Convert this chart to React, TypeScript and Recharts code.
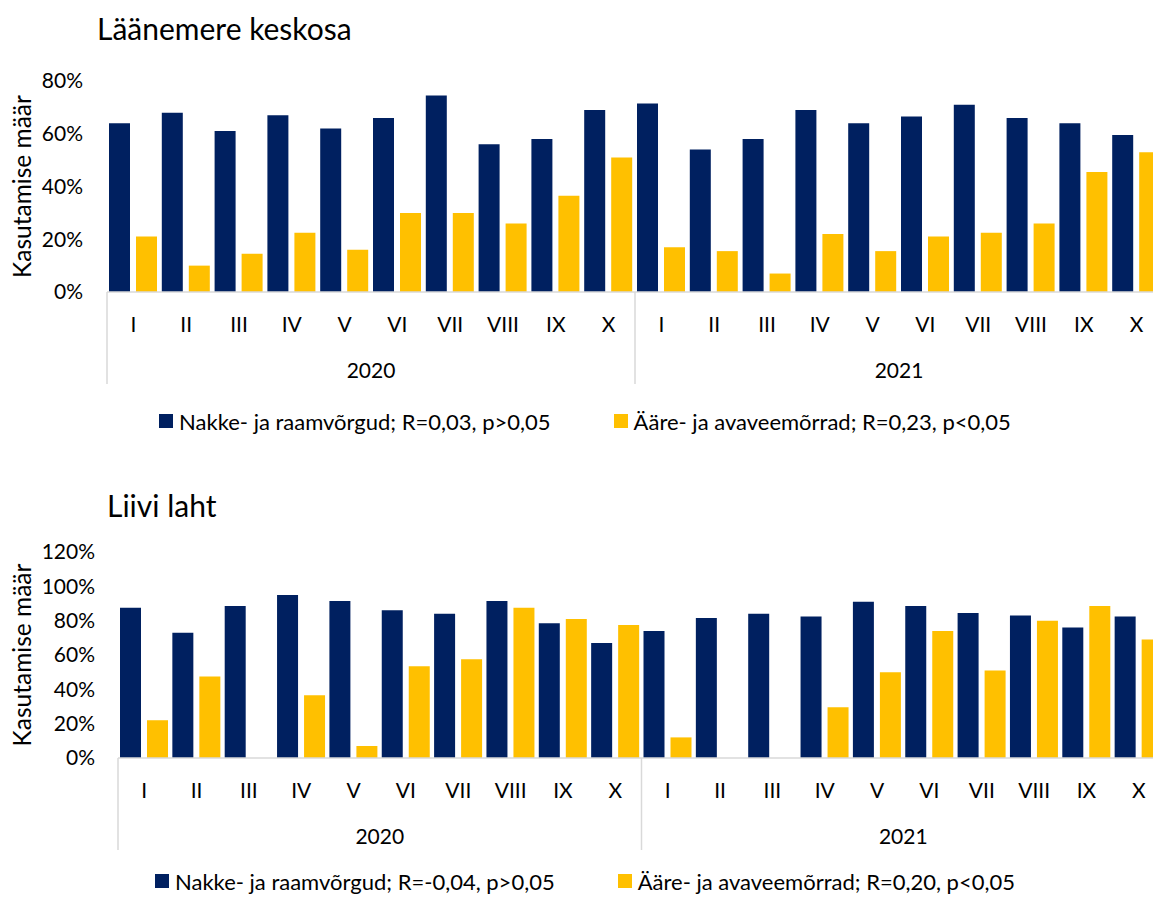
import { BarChart, Bar, XAxis, YAxis, Legend } from "recharts";

const months = ["I", "II", "III", "IV", "V", "VI", "VII", "VIII", "IX", "X"];
const years = ["2020", "2021"];

// Läänemere keskosa, % per month (2020 I..X, then 2021 I..X)
const keskNakke = [64, 68, 61, 67, 62, 66, 74.5, 56, 58, 69, 71.5, 54, 58, 69, 64, 66.5, 71, 66, 64, 59.5];
const keskAare = [21, 10, 14.5, 22.5, 16, 30, 30, 26, 36.5, 51, 17, 15.5, 7, 22, 15.5, 21, 22.5, 26, 45.5, 53];

// Liivi laht
const liiviNakke = [87.5, 73, 88.5, 95, 91.5, 86, 84, 91.5, 78.5, 67, 74, 81.5, 84, 82.5, 91, 88.5, 84.5, 83, 76, 82.5];
const liiviAare = [22, 47.5, null, 36.5, 7, 53.5, 57.5, 87.5, 81, 77.5, 12, null, null, 29.5, 50, 74, 51, 80, 88.5, 69];

const keskTicks = [0, 20, 40, 60, 80];
const liiviTicks = [0, 20, 40, 60, 80, 100, 120];

const keskNames = ["Nakke- ja raamvõrgud; R=0,03, p>0,05", "Ääre- ja avaveemõrrad; R=0,23, p<0,05"];
const liiviNames = ["Nakke- ja raamvõrgud; R=-0,04, p>0,05", "Ääre- ja avaveemõrrad; R=0,20, p<0,05"];

const W = 1170;
const FONT = "Lato, 'Open Sans', sans-serif";
const BLUE = "#002060";
const YELLOW = "#FFC000";
const LINE = "#d9d9d9";

function buildRows(nakke: (number | null)[], aare: (number | null)[]) {
  return years.flatMap((year, yi) =>
    months.map((month, mi) => ({
      year,
      month,
      nakke: nakke[yi * months.length + mi],
      aare: aare[yi * months.length + mi],
    }))
  );
}

function CatTick(props: any) {
  const { x, y, payload, index, bw, rows } = props;
  const n = months.length;
  return (
    <g>
      <text x={x} y={y + 31} textAnchor="middle" dominantBaseline="central" fontSize={21} fontFamily={FONT} fill="#000">
        {payload.value}
      </text>
      {index % n === 0 && (
        <line x1={x - bw / 2} x2={x - bw / 2} y1={y} y2={y + 92} stroke={LINE} strokeWidth={1.5} />
      )}
      {index === rows.length - 1 && (
        <line x1={x + bw / 2} x2={x + bw / 2} y1={y} y2={y + 92} stroke={LINE} strokeWidth={1.5} />
      )}
      {index % n === n / 2 - 1 && (
        <text x={x + bw / 2} y={y + 77} textAnchor="middle" dominantBaseline="central" fontSize={21} fontFamily={FONT} fill="#000">
          {rows[index].year}
        </text>
      )}
    </g>
  );
}

function YLabel(props: any) {
  const { x, y, height } = props.viewBox;
  const cx = x + 21;
  const cy = y + height / 2;
  return (
    <text x={cx} y={cy} transform={`rotate(-90, ${cx}, ${cy})`} textAnchor="middle" dominantBaseline="central" fontSize={24.5} fontFamily={FONT} fill="#000">
      Kasutamise määr
    </text>
  );
}

function LegendBox(props: any) {
  const { payload } = props;
  return (
    <div style={{ display: "flex", justifyContent: "center", alignItems: "center", gap: 63, height: 30, fontSize: 22, fontFamily: FONT, color: "#000" }}>
      {(payload || []).map((e: any) => (
        <span key={e.value} style={{ display: "flex", alignItems: "center" }}>
          <span style={{ width: 14, height: 14, background: e.color, marginRight: 6, display: "inline-block" }} />
          {e.value}
        </span>
      ))}
    </div>
  );
}

type PanelProps = {
  title: string;
  titleX: number;
  titleY: number;
  top: number;
  height: number;
  marginTop: number;
  marginRight: number;
  axisWidth: number;
  tickGap: number;
  legendLift: number;
  nakke: (number | null)[];
  aare: (number | null)[];
  ticks: number[];
  names: string[];
};

function Panel(p: PanelProps) {
  const rows = buildRows(p.nakke, p.aare);
  const bw = (W - p.axisWidth - p.marginRight) / rows.length;
  return (
    <div style={{ position: "absolute", left: 0, top: p.top, width: W, height: p.height }}>
      <div style={{ position: "absolute", left: p.titleX, top: p.titleY, fontSize: 30, lineHeight: "34px", fontFamily: FONT, color: "#000" }}>
        {p.title}
      </div>
      <BarChart
        width={W}
        height={p.height}
        data={rows}
        margin={{ top: p.marginTop, right: p.marginRight, left: 0, bottom: 0 }}
        barCategoryGap={2}
        barGap={6}
      >
        <XAxis
          dataKey="month"
          interval={0}
          height={114}
          tickLine={false}
          tickSize={0}
          tickMargin={0}
          axisLine={{ stroke: LINE, strokeWidth: 1.5 }}
          tick={(tp: any) => <CatTick {...tp} bw={bw} rows={rows} />}
        />
        <YAxis
          width={p.axisWidth}
          domain={[0, p.ticks[p.ticks.length - 1]]}
          ticks={p.ticks}
          interval={0}
          tickFormatter={(v: number) => `${v}%`}
          axisLine={false}
          tickLine={false}
          tickSize={0}
          tickMargin={p.tickGap}
          tick={{ fontSize: 21, fill: "#000", fontFamily: FONT }}
          label={{ content: (lp: any) => <YLabel {...lp} /> }}
        />
        <Legend
          verticalAlign="bottom"
          height={30}
          content={(lp: any) => <LegendBox {...lp} />}
          wrapperStyle={{ left: 0, width: W, bottom: p.legendLift }}
        />
        <Bar dataKey="nakke" name={p.names[0]} fill={BLUE} isAnimationActive={false} />
        <Bar dataKey="aare" name={p.names[1]} fill={YELLOW} isAnimationActive={false} />
      </BarChart>
    </div>
  );
}

export default function App() {
  return (
    <div style={{ position: "absolute", left: 0, top: 0, width: 1153, height: 898, overflow: "hidden", background: "#fff", fontFamily: FONT }}>
      <Panel
        title="Läänemere keskosa"
        titleX={97}
        titleY={11}
        top={0}
        height={436}
        marginTop={81}
        marginRight={7}
        axisWidth={107}
        tickGap={24}
        legendLift={0}
        nakke={keskNakke}
        aare={keskAare}
        ticks={keskTicks}
        names={keskNames}
      />
      <Panel
        title="Liivi laht"
        titleX={107}
        titleY={18}
        top={470}
        height={432}
        marginTop={82}
        marginRight={5}
        axisWidth={118}
        tickGap={23}
        legendLift={6}
        nakke={liiviNakke}
        aare={liiviAare}
        ticks={liiviTicks}
        names={liiviNames}
      />
    </div>
  );
}
